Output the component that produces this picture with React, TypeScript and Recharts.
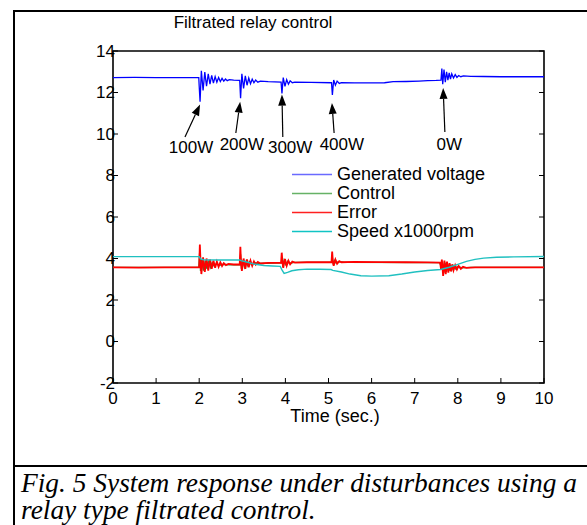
import {
  LineChart,
  Line,
  XAxis,
  YAxis,
  ReferenceLine,
  ReferenceDot,
  ReferenceArea,
} from "recharts";

// time (s), value pairs
const voltage: [number, number][] = [
  [0, 12.72], [0.5, 12.73], [1.0, 12.72], [1.5, 12.72], [1.99, 12.72],
  [2.0, 12.3], [2.02, 11.56], [2.05, 13.05], [2.09, 12.1], [2.13, 12.98],
  [2.17, 12.3], [2.21, 12.9], [2.25, 12.4], [2.29, 12.83], [2.33, 12.45],
  [2.37, 12.77], [2.41, 12.5], [2.45, 12.72], [2.49, 12.53], [2.53, 12.68],
  [2.57, 12.55], [2.61, 12.65], [2.65, 12.57], [2.7, 12.62], [2.8, 12.6],
  [2.94, 12.58], [2.96, 11.72], [2.99, 12.9], [3.03, 12.2], [3.07, 12.8],
  [3.11, 12.35], [3.15, 12.7], [3.19, 12.42], [3.23, 12.64], [3.27, 12.47],
  [3.31, 12.6], [3.36, 12.5], [3.42, 12.55], [3.6, 12.52], [3.9, 12.5],
  [3.92, 11.96], [3.95, 12.72], [3.99, 12.3], [4.03, 12.62], [4.07, 12.4],
  [4.11, 12.56], [4.16, 12.47], [4.22, 12.5], [4.6, 12.49], [5.07, 12.47],
  [5.09, 11.88], [5.12, 12.6], [5.16, 12.35], [5.2, 12.55], [5.25, 12.44],
  [5.3, 12.48], [5.6, 12.46], [6.0, 12.46], [6.3, 12.47], [6.5, 12.52],
  [6.8, 12.53], [7.1, 12.55], [7.3, 12.57], [7.5, 12.58], [7.61, 12.6],
  [7.63, 13.15], [7.65, 12.4], [7.68, 13.1], [7.71, 12.5], [7.74, 13.0],
  [7.77, 12.6], [7.8, 12.95], [7.83, 12.65], [7.86, 12.9], [7.9, 12.7],
  [7.94, 12.86], [7.98, 12.73], [8.02, 12.82], [8.07, 12.76], [8.13, 12.8],
  [8.3, 12.78], [8.6, 12.77], [9.0, 12.76], [9.5, 12.76], [10, 12.76],
];

const control: [number, number][] = [
  [0, 3.57], [1.99, 3.57], [2.01, 4.3], [2.03, 3.4], [2.06, 3.95],
  [2.1, 3.42], [2.14, 3.9], [2.18, 3.5], [2.22, 3.85], [2.26, 3.56],
  [2.3, 3.8], [2.35, 3.62], [2.4, 3.76], [2.46, 3.66], [2.54, 3.72],
  [2.7, 3.7], [2.94, 3.7], [2.96, 4.2], [2.98, 3.5], [3.01, 3.9],
  [3.05, 3.58], [3.09, 3.88], [3.13, 3.64], [3.17, 3.84], [3.22, 3.7],
  [3.28, 3.8], [3.4, 3.76], [3.9, 3.79], [3.92, 4.0], [3.94, 3.6],
  [3.97, 3.92], [4.01, 3.7], [4.05, 3.86], [4.1, 3.76], [4.2, 3.81],
  [5.07, 3.82], [5.09, 4.05], [5.11, 3.7], [5.14, 3.9], [5.18, 3.77],
  [5.23, 3.85], [5.35, 3.82], [7.58, 3.8], [7.62, 3.6], [7.645, 3.85],
  [7.675, 3.3], [7.705, 3.8], [7.735, 3.35], [7.765, 3.75], [7.795, 3.4],
  [7.825, 3.7], [7.86, 3.45], [7.9, 3.66], [7.95, 3.5], [8.0, 3.62],
  [8.1, 3.55], [8.3, 3.57], [10, 3.57],
];

const error: [number, number][] = [
  [0, 3.57], [0.6, 3.56], [1.2, 3.57], [2.0, 3.57], [2.015, 4.67],
  [2.03, 3.9], [2.05, 3.25], [2.09, 4.05], [2.13, 3.35], [2.17, 4.0],
  [2.21, 3.42], [2.25, 3.95], [2.29, 3.5], [2.33, 3.9], [2.37, 3.55],
  [2.41, 3.85], [2.45, 3.6], [2.49, 3.82], [2.53, 3.64], [2.57, 3.78],
  [2.62, 3.68], [2.68, 3.74], [2.8, 3.71], [2.94, 3.71], [2.955, 4.56],
  [2.97, 3.8], [2.99, 3.4], [3.03, 4.0], [3.07, 3.5], [3.11, 3.95],
  [3.15, 3.58], [3.19, 3.9], [3.23, 3.65], [3.27, 3.86], [3.31, 3.7],
  [3.36, 3.83], [3.42, 3.76], [3.6, 3.79], [3.9, 3.8], [3.915, 4.28],
  [3.93, 3.9], [3.95, 3.55], [3.99, 3.98], [4.03, 3.65], [4.07, 3.9],
  [4.11, 3.72], [4.16, 3.85], [4.22, 3.8], [4.5, 3.82], [5.07, 3.83],
  [5.085, 4.33], [5.1, 3.9], [5.12, 3.65], [5.16, 3.95], [5.2, 3.75],
  [5.25, 3.87], [5.3, 3.82], [5.6, 3.84], [6.2, 3.83], [6.8, 3.82],
  [7.3, 3.81], [7.59, 3.8], [7.61, 3.5], [7.63, 3.95], [7.66, 3.16],
  [7.69, 3.9], [7.72, 3.25], [7.75, 3.85], [7.78, 3.32], [7.81, 3.78],
  [7.84, 3.38], [7.87, 3.72], [7.9, 3.43], [7.94, 3.68], [7.98, 3.47],
  [8.02, 3.64], [8.07, 3.5], [8.12, 3.6], [8.2, 3.55], [8.4, 3.57],
  [9.0, 3.57], [10, 3.57],
];

const speed: [number, number][] = [
  [0, 4.09], [2.0, 4.09], [2.03, 3.98], [2.1, 3.94], [2.5, 3.93],
  [2.94, 3.93], [2.97, 3.9], [3.1, 3.83], [3.3, 3.72], [3.5, 3.66],
  [3.7, 3.64], [3.88, 3.62], [3.92, 3.45], [3.97, 3.28], [4.05, 3.33],
  [4.15, 3.41], [4.3, 3.46], [4.5, 3.49], [4.8, 3.48], [5.06, 3.47],
  [5.1, 3.43], [5.3, 3.35], [5.5, 3.25], [5.75, 3.17], [6.0, 3.15],
  [6.4, 3.17], [6.7, 3.25], [7.0, 3.35], [7.3, 3.42], [7.6, 3.47],
  [7.8, 3.58], [8.0, 3.72], [8.2, 3.86], [8.4, 3.96], [8.6, 4.02],
  [8.9, 4.06], [9.3, 4.08], [10, 4.1],
];

const xTicks = [0, 1, 2, 3, 4, 5, 6, 7, 8, 9, 10];
const yTicks = [-2, 0, 2, 4, 6, 8, 10, 12, 14];

// label, label position, arrow tail, arrow head (data units)
const notes = [
  { text: "100W", lx: 1.81, ly: 9.37, tx: 1.67, ty: 9.86, hx: 2.02, hy: 11.42 },
  { text: "200W", lx: 2.99, ly: 9.47, tx: 2.85, ty: 10.05, hx: 2.95, hy: 11.56 },
  { text: "300W", lx: 4.11, ly: 9.33, tx: 3.94, ty: 9.86, hx: 3.92, hy: 11.9 },
  { text: "400W", lx: 5.31, ly: 9.47, tx: 5.13, ty: 10.05, hx: 5.08, hy: 11.5 },
  { text: "0W", lx: 7.8, ly: 9.47, tx: 7.7, ty: 10.1, hx: 7.66, hy: 12.22 },
];

const legendItems = [
  { name: "Generated voltage", color: "#6a6aff" },
  { name: "Control", color: "#66b266" },
  { name: "Error", color: "#ff2020" },
  { name: "Speed x1000rpm", color: "#10c4c4" },
];

const toRows = (pts: [number, number][]) => pts.map(([t, v]) => ({ t, v }));

const FONT = "'Liberation Sans', Arial, Helvetica, sans-serif";

const BottomTick = (p: any) => (
  <g>
    <line x1={p.x} x2={p.x} y1={p.y} y2={p.y - 5} stroke="#000" />
    <text x={p.x} y={p.y + 15} textAnchor="middle" dominantBaseline="central" fontSize={17} fontFamily={FONT} fill="#000">
      {p.payload.value}
    </text>
  </g>
);

const TopTick = (p: any) => <line x1={p.x} x2={p.x} y1={p.y} y2={p.y + 5} stroke="#000" />;

const LeftTick = (p: any) => (
  <g>
    <line x1={p.x} x2={p.x + 5} y1={p.y} y2={p.y} stroke="#000" />
    <text x={p.x + 2} y={p.y} textAnchor="end" dominantBaseline="central" fontSize={17} fontFamily={FONT} fill="#000">
      {p.payload.value}
    </text>
  </g>
);

const RightTick = (p: any) => <line x1={p.x} x2={p.x - 5} y1={p.y} y2={p.y} stroke="#000" />;

const Arrow = (p: any) => {
  const { x1, y1, x2, y2 } = p;
  const a = Math.atan2(y2 - y1, x2 - x1);
  const len = 11;
  const w = 4;
  const bx = x2 - len * Math.cos(a);
  const by = y2 - len * Math.sin(a);
  const px = -Math.sin(a) * w;
  const py = Math.cos(a) * w;
  return (
    <g>
      <line x1={x1} y1={y1} x2={bx} y2={by} stroke="#000" strokeWidth={1.2} />
      <polygon points={`${x2},${y2} ${bx + px},${by + py} ${bx - px},${by - py}`} fill="#000" />
    </g>
  );
};

const NoteText = (text: string) => (p: any) => (
  <text x={p.cx} y={p.cy} textAnchor="middle" dominantBaseline="central" fontSize={17} fontFamily={FONT} fill="#000">
    {text}
  </text>
);

export default function App() {
  return (
    <div style={{ position: "absolute", left: 0, top: 0, width: 587, height: 525, background: "#fff", overflow: "hidden" }}>
      <div style={{ position: "absolute", left: 13, top: 10, width: 620, height: 520, border: "2px solid #000" }} />
      <div style={{ position: "absolute", left: 13, top: 465, width: 620, height: 2, background: "#000" }} />

      <div style={{ position: "absolute", left: 0, top: 0 }}>
        <LineChart width={587} height={525} margin={{ top: 50, right: 42, bottom: 141, left: 112 }}>
          <XAxis
            type="number"
            dataKey="t"
            domain={[0, 10]}
            ticks={xTicks}
            interval={0}
            height={1}
            tickSize={0}
            tickMargin={0}
            tick={BottomTick}
            axisLine={false}
            allowDataOverflow
          />
          <XAxis
            xAxisId="top"
            orientation="top"
            type="number"
            domain={[0, 10]}
            ticks={xTicks}
            interval={0}
            height={1}
            tickSize={0}
            tickMargin={0}
            tick={TopTick}
            axisLine={false}
            allowDataOverflow
          />
          <YAxis
            type="number"
            domain={[-2, 14]}
            ticks={yTicks}
            interval={0}
            width={1}
            tickSize={0}
            tickMargin={0}
            tick={LeftTick}
            axisLine={false}
            allowDataOverflow
          />
          <YAxis
            yAxisId="right"
            orientation="right"
            type="number"
            domain={[-2, 14]}
            ticks={yTicks}
            interval={0}
            width={1}
            tickSize={0}
            tickMargin={0}
            tick={RightTick}
            axisLine={false}
            allowDataOverflow
          />
          <ReferenceArea x1={0} x2={10} y1={-2} y2={14} fill="none" stroke="#000" strokeWidth={1.6} ifOverflow="visible" />
          <Line data={toRows(voltage)} dataKey="v" name="Generated voltage" stroke="#0000ff" strokeWidth={1.3} dot={false} type="linear" isAnimationActive={false} />
          <Line data={toRows(control)} dataKey="v" name="Control" stroke="#2e8b2e" strokeWidth={1.3} dot={false} type="linear" isAnimationActive={false} />
          <Line data={toRows(error)} dataKey="v" name="Error" stroke="#ff0000" strokeWidth={1.8} dot={false} type="linear" isAnimationActive={false} />
          <Line data={toRows(speed)} dataKey="v" name="Speed x1000rpm" stroke="#20c0c0" strokeWidth={1.4} dot={false} type="linear" isAnimationActive={false} />
          {notes.map((n) => (
            <ReferenceLine
              key={n.text + "-arrow"}
              segment={[{ x: n.tx, y: n.ty }, { x: n.hx, y: n.hy }]}
              shape={Arrow}
              ifOverflow="visible"
            />
          ))}
          {notes.map((n) => (
            <ReferenceDot key={n.text} x={n.lx} y={n.ly} r={0} shape={NoteText(n.text)} ifOverflow="visible" />
          ))}
        </LineChart>
      </div>

      <div style={{ position: "absolute", left: 253, top: 23, transform: "translate(-50%, -50%)", fontFamily: FONT, fontSize: 17, whiteSpace: "nowrap" }}>
        Filtrated relay control
      </div>
      <div style={{ position: "absolute", left: 335, top: 416, transform: "translate(-50%, -50%)", fontFamily: FONT, fontSize: 18, lineHeight: "18px", whiteSpace: "nowrap" }}>
        Time (sec.)
      </div>

      <div style={{ position: "absolute", left: 292, top: 164.5, fontFamily: FONT, fontSize: 18 }}>
        {legendItems.map((it) => (
          <div key={it.name} style={{ display: "flex", alignItems: "center", height: 19, whiteSpace: "nowrap" }}>
            <svg width={45} height={19} style={{ flex: "none" }}>
              <line x1={0} x2={40} y1={9.5} y2={9.5} stroke={it.color} strokeWidth={1.5} />
            </svg>
            <span style={{ lineHeight: "19px" }}>{it.name}</span>
          </div>
        ))}
      </div>

      <div style={{ position: "absolute", left: 21, top: 470, fontFamily: "'Liberation Serif', 'Times New Roman', serif", fontStyle: "italic", fontSize: 27.4, lineHeight: "27.4px", whiteSpace: "nowrap" }}>
        <div>Fig. 5 System response under disturbances using a</div>
        <div>relay type filtrated control.</div>
      </div>
    </div>
  );
}
